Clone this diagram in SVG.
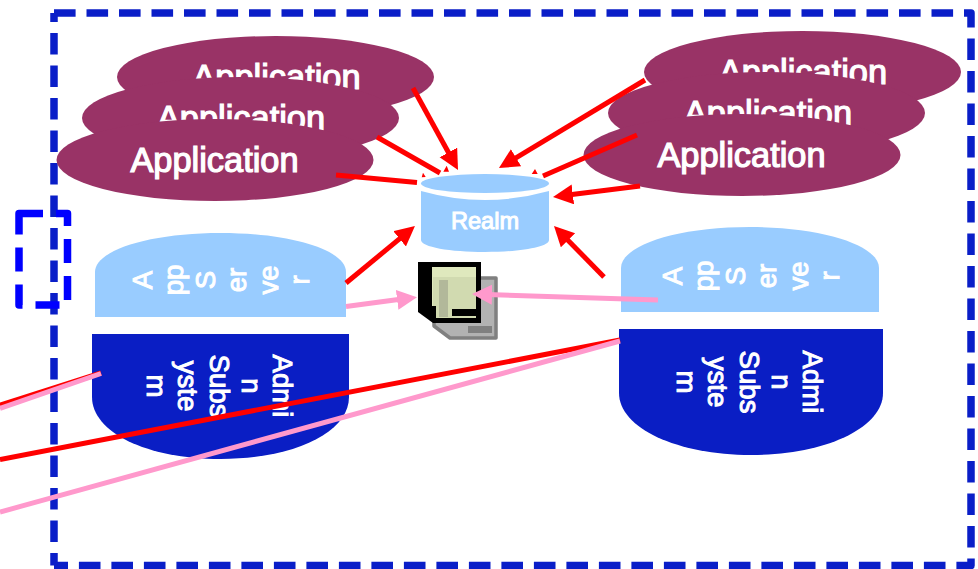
<svg xmlns="http://www.w3.org/2000/svg" width="978" height="569" viewBox="0 0 978 569">
<style>
.app{fill:#993366}
.apt{font:34.4px "Liberation Sans",Arial,sans-serif;fill:#fff;stroke:#fff;stroke-width:1.2;text-anchor:middle}
.srv{fill:#99ccff}
.adm{fill:#0a1ec4}
.rot{font:27.6px "Liberation Sans",Arial,sans-serif;fill:#fff;stroke:#fff;stroke-width:1;text-anchor:middle}
.red{stroke:#ff0000;stroke-width:5;fill:none}
.pink{stroke:#ff99cc;stroke-width:5;fill:none}
.rh{marker-end:url(#rh)}
.ph{marker-end:url(#ph)}
</style>
<defs>
<marker id="rh" markerUnits="userSpaceOnUse" markerWidth="22" markerHeight="22" refX="5" refY="10" orient="auto"><path d="M0,0L20,10L0,20Z" fill="#ff0000"/></marker>
<marker id="ph" markerUnits="userSpaceOnUse" markerWidth="22" markerHeight="22" refX="5" refY="10" orient="auto"><path d="M0,0L20,10L0,20Z" fill="#ff99cc"/></marker>
</defs>
<rect width="978" height="569" fill="#fff"/>
<g id="frame" fill="none" stroke-linejoin="round">
<path d="M54,13H971V565.5H54" stroke="#0a1ec8" stroke-width="7.5" stroke-dasharray="21.6 10.9"/>
<path d="M54,13V565.5" stroke="#0a1ec8" stroke-width="7.5" stroke-dasharray="21.6 10.9" stroke-dashoffset="12.6"/>
</g>
<g id="small-frame"><rect x="19" y="213.5" width="48.5" height="91.5" fill="none" stroke="#0000ff" stroke-width="7.5" stroke-linejoin="round" stroke-dasharray="24 13"/></g>
<g id="app-left-1"><ellipse class="app" cx="275.5" cy="77" rx="158.5" ry="41"/><text class="apt" x="276.5" y="89">Application</text></g>
<g id="app-left-2"><ellipse class="app" cx="240.5" cy="118" rx="158.5" ry="41"/><text class="apt" x="241" y="130">Application</text></g>
<g id="app-left-3"><ellipse class="app" cx="215" cy="160" rx="158.5" ry="41"/><text class="apt" x="214.5" y="172">Application</text></g>
<g id="app-right-1"><ellipse class="app" cx="802.5" cy="72" rx="158.5" ry="41"/><text class="apt" x="803" y="84">Application</text></g>
<g id="app-right-2"><ellipse class="app" cx="766.5" cy="113" rx="158.5" ry="41"/><text class="apt" x="768" y="125">Application</text></g>
<g id="app-right-3"><ellipse class="app" cx="742" cy="155" rx="158.5" ry="41"/><text class="apt" x="741.5" y="167">Application</text></g>
<g id="realm">
<path class="srv" d="M421,191Q485,209 549,191V240C549,247 520,252 485,252S421,247 421,240Z"/>
<ellipse class="srv" cx="485" cy="183.5" rx="64" ry="9.5"/>
<text x="485" y="229" font-family="'Liberation Sans',Arial,sans-serif" font-size="23.6" fill="#fff" stroke="#fff" stroke-width="1" text-anchor="middle">Realm</text>
</g>
<g id="icon">
<path d="M480,278H496V338H450L434,326V300Z" fill="#b2b2b2" stroke="#808080" stroke-width="3.5" stroke-linejoin="round"/>
<rect x="468" y="326" width="24" height="7" fill="#808080"/>
<path d="M418,262H481V323H433L418,312Z" fill="#000"/>
<rect x="432" y="267" width="44" height="51" fill="#dfe8bd"/>
<rect x="433" y="277" width="43" height="41" fill="#d1dab0"/>
<rect x="439" y="280" width="9" height="37" fill="#b2b89a"/>
<rect x="452" y="309" width="24" height="7" fill="#000"/>
<path d="M428,306H436V318H432Z" fill="#000"/>
</g>
<g id="appserver-left">
<path class="srv" d="M95,317V272C95,250 150,233 220.5,233S346,250 346,272V317Z"/>
<g class="rot">
<text transform="translate(152,280) rotate(-90)">A</text>
<text transform="translate(183,280) rotate(-90)">pp</text>
<text transform="translate(215,280) rotate(-90)">S</text>
<text transform="translate(246,280) rotate(-90)">er</text>
<text transform="translate(278,280) rotate(-90)">ve</text>
<text transform="translate(309,280) rotate(-90)">r</text>
</g>
</g>
<g id="admin-left">
<path class="adm" d="M92,334H349V397C349,432 295,459 220.5,459S92,432 92,397Z"/>
<g class="rot">
<text transform="translate(273,386) rotate(90)">Admi</text>
<text transform="translate(242,386) rotate(90)">n</text>
<text transform="translate(210,386) rotate(90)">Subs</text>
<text transform="translate(178,386) rotate(90)">yste</text>
<text transform="translate(147,386) rotate(90)">m</text>
</g>
</g>
<g id="appserver-right">
<path class="srv" d="M621,312V268C621,246 675,227 750,227S879,246 879,268V312Z"/>
<g class="rot">
<text transform="translate(682,276) rotate(-90)">A</text>
<text transform="translate(713,276) rotate(-90)">pp</text>
<text transform="translate(745,276) rotate(-90)">S</text>
<text transform="translate(776,276) rotate(-90)">er</text>
<text transform="translate(808,276) rotate(-90)">ve</text>
<text transform="translate(839,276) rotate(-90)">r</text>
</g>
</g>
<g id="admin-right">
<path class="adm" d="M619,329H883V393C883,428 825,455 751,455S619,428 619,393Z"/>
<g class="rot">
<text transform="translate(803,382) rotate(90)">Admi</text>
<text transform="translate(772,382) rotate(90)">n</text>
<text transform="translate(740,382) rotate(90)">Subs</text>
<text transform="translate(708,382) rotate(90)">yste</text>
<text transform="translate(677,382) rotate(90)">m</text>
</g>
</g>
<g id="connectors">
<line class="red rh" x1="413" y1="88" x2="450.8" y2="156.8"/>
<line class="red" x1="377" y1="137" x2="440" y2="173"/>
<line class="red" x1="336" y1="175" x2="417" y2="182.5"/>
<line class="red rh" x1="645" y1="80" x2="511.8" y2="160.3"/>
<line class="red" x1="637" y1="135" x2="543" y2="176"/>
<line class="red rh" x1="640" y1="186" x2="567.9" y2="195.1"/>
<line class="red rh" x1="604" y1="277" x2="564.5" y2="236.7"/>
<line class="red rh" x1="346" y1="283" x2="403.4" y2="235.6"/>
<path d="M421.7,177.3L425.7,177L423,172.7ZM443.3,171.7L449,171.7L446.7,165.7ZM531.7,174L537.7,174L535,169Z" fill="#ff0000"/>
<line class="pink ph" x1="346" y1="306.5" x2="402.1" y2="299.1"/>
<line class="pink ph" x1="658" y1="300" x2="487" y2="294.5"/>
<line class="red" x1="101" y1="373" x2="0" y2="405"/>
<line class="pink" x1="101" y1="373.5" x2="0" y2="408.5"/>
<line class="red" x1="620" y1="340" x2="0" y2="459.5"/>
<line class="pink" x1="620" y1="341" x2="0" y2="512"/>
</g>
</svg>
